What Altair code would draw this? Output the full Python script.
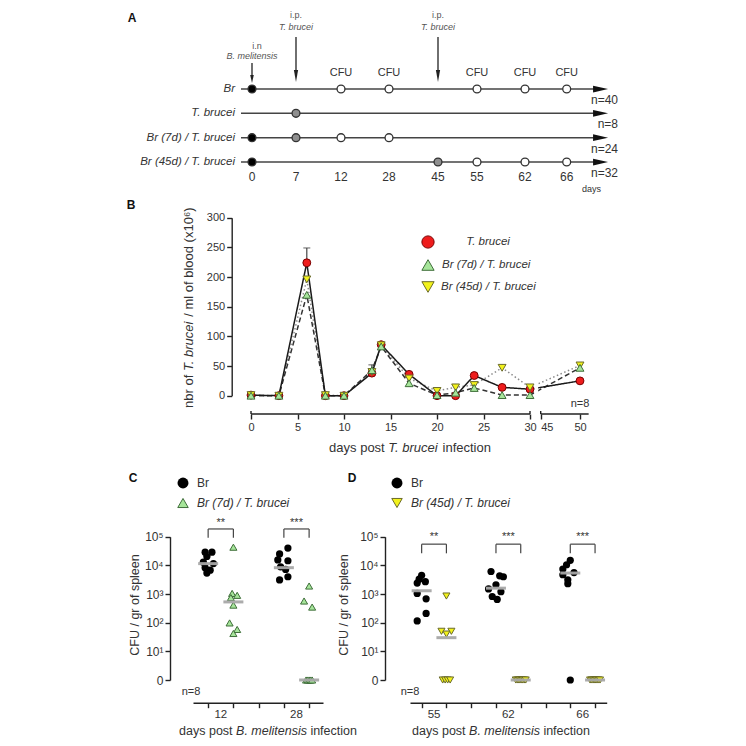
import altair as alt
import pandas as pd
import numpy as np

FONT = "Liberation Sans"
INK = "#333333"

# ---------------- data ----------------
# Panel A: experimental timeline
a_days = [0, 7, 12, 28, 45, 55, 62, 66]
a_cfu_days = [12, 28, 55, 62, 66]
a_ip_days = [7, 45]
a_in_days = [0]
a_row = [0, 0, 0, 0, 0, 0, 1, 2, 2, 2, 2, 3, 3, 3, 3, 3]
a_day = [0, 12, 28, 55, 62, 66, 7, 0, 7, 12, 28, 0, 45, 55, 62, 66]
a_kind = ["Br", "CFU", "CFU", "CFU", "CFU", "CFU", "Tb", "Br", "Tb", "CFU", "CFU",
          "Br", "Tb", "CFU", "CFU", "CFU"]
a_rowlabels = ["Br", "T. brucei", "Br  (7d) / T. brucei", "Br (45d)  / T. brucei"]
a_n = ["n=40", "n=8", "n=24", "n=32"]

# Panel B: parasitemia
b_days = [0, 3, 6, 8, 10, 13, 14, 17, 20, 22, 24, 27, 30, 50]
b_tb = [1, 0, 224, 0, 0, 38, 86, 36, 0, 0, 34, 14, 11, 25]
b_br7 = [0, 0, 170, 0, 0, 43, 83, 21, 1, 5, 13, 1, 1, 47]
b_br45 = [1, 0, 196, 1, 0, 40, 85, 29, 8, 14, 18, 47, 14, 51]
b_err_day = [6, 13]
b_err_lo = [224, 43]
b_err_hi = [249, 52]
b_xticks = [0, 5, 10, 15, 20, 25, 30, 45, 50]
b_yticks = [0, 50, 100, 150, 200, 250, 300]

# Panel C: CFU, Br vs Br(7d)/T. brucei
c_days = [12, 28]
c_br = [[28800, 28800, 20400, 12900, 11500, 8300, 6800, 5400],
        [40000, 25000, 15500, 14500, 8900, 7200, 4000, 3100]]
c_br_jit = [[-0.12, 0.15, -0.05, -0.19, 0.21, -0.12, 0.08, -0.05],
            [0.16, -0.17, -0.24, 0.16, -0.13, 0.07, 0.16, -0.17]]
c_tb = [[43000, 1050, 900, 750, 410, 98, 58, 42],
        [1900, 570, 350, 0, 0, 0, 0, 0]]
c_tb_jit = [[0.0, -0.05, 0.15, -0.1, 0.0, -0.15, 0.15, 0.0],
            [0.0, -0.2, 0.12, -0.12, -0.06, 0.0, 0.06, 0.12]]
c_br_med = [11500, 8300]
c_tb_med = [530, 0]
c_stars = ["**", "***"]

# Panel D: CFU, Br vs Br(45d)/T. brucei
d_days = [55, 62, 66]
d_br = [[4500, 3300, 2700, 2400, 1050, 680, 210, 115],
        [6100, 4300, 4000, 2100, 1500, 1200, 820, 650],
        [15000, 10500, 7400, 5600, 4700, 3150, 2300, 0]]
d_br_jit = [[0.0, -0.1, 0.15, -0.18, -0.18, 0.18, 0.18, -0.18],
            [-0.2, 0.15, 0.3, 0.0, -0.3, 0.2, -0.15, 0.05],
            [0.0, -0.15, -0.3, 0.15, -0.3, -0.1, -0.1, 0.0]]
d_tb = [[850, 50, 50, 40, 0, 0, 0, 0],
        [0, 0, 0, 0, 0, 0, 0, 0],
        [0, 0, 0, 0, 0, 0, 0, 0]]
d_tb_jit = [[0.0, -0.2, 0.2, 0.0, -0.15, -0.05, 0.05, 0.15],
            [-0.2, -0.14, -0.08, -0.03, 0.03, 0.08, 0.14, 0.2],
            [-0.2, -0.14, -0.08, -0.03, 0.03, 0.08, 0.14, 0.2]]
d_br_med = [1300, 1600, 5400]
d_tb_med = [30, 0, 0]
d_stars = ["**", "***", "***"]

# ---------------- helpers ----------------
ONE = pd.DataFrame({"k": [0]})
CW = {' ': .278, '(': .333, ')': .333, '*': .389, '/': .278, '.': .278, '=': .584,
      'A': .667, 'B': .667, 'C': .722, 'D': .722, 'F': .611, 'T': .611, 'U': .722,
      'a': .556, 'b': .556, 'c': .5, 'd': .556, 'e': .556, 'f': .278, 'g': .556,
      'h': .556, 'i': .222, 'l': .222, 'm': .833, 'n': .556, 'o': .556, 'p': .556,
      'r': .333, 's': .5, 't': .278, 'u': .556, 'x': .5, 'y': .5, '⁶': .36}


def tw(s, size):
    return sum(CW.get(ch, .556) for ch in s) * size


def T(s, x, y, size=11, italic=False, align="left", angle=0, bold=False, color=INK):
    return alt.Chart(ONE).mark_text(
        text=s, x=x, y=y, fontSize=size, font=FONT,
        fontStyle="italic" if italic else "normal",
        fontWeight="bold" if bold else "normal",
        align=align, baseline="middle", angle=angle, color=color)


def rich(segs, cx, cy, size, angle=0, color=INK):
    total = sum(tw(s, size) for s, _ in segs)
    pos = -total / 2
    out = []
    for s, it in segs:
        lead = len(s) - len(s.lstrip())
        p = pos + tw(s[:lead], size)
        if angle == 0:
            out.append(T(s.strip(), cx + p, cy, size, it, "left", 0, color=color))
        else:
            out.append(T(s.strip(), cx, cy - p, size, it, "left", 270, color=color))
        pos += tw(s, size)
    return out


def ax(orient, offset, values, labels=True, label_expr=None, domain=True, size=11, **extra):
    kw = dict(orient=orient, offset=offset, values=values, title=None, grid=False,
              tickSize=5, tickWidth=1.4, tickColor="#222", domain=domain,
              domainColor="#222", domainWidth=1.4, labels=labels, labelFont=FONT,
              labelFontSize=size, labelColor=INK, labelPadding=2, labelOverlap=False)
    if label_expr:
        kw["labelExpr"] = label_expr
    kw.update(extra)
    return alt.Axis(**kw)


ARROW_R = "M-1,-0.45L1,0L-1,0.45Z"
ARROW_D = "M-0.45,-1L0.45,-1L0,1Z"
ARROW_D2 = "M-0.35,-1L0.35,-1L0,1Z"

layers = []

# ---------------- Panel A ----------------
xA = alt.Scale(domain=a_days, range=[244, 288, 333, 381, 430, 469, 517, 558.7], nice=False, zero=False)
yA = alt.Scale(domain=[0, 3], range=[81, 154], nice=False, zero=False)
LINE_START, LINE_END = -1.75, 69.25

rows_df = pd.DataFrame({"row": [0, 1, 2, 3], "x0": LINE_START, "x1": LINE_END,
                        "label": a_rowlabels, "n": a_n})
XA = lambda f: alt.X(f, scale=xA, axis=None)
YA = lambda f: alt.Y(f, scale=yA, axis=None)

layers.append(alt.Chart(rows_df).mark_rule(color="#444", strokeWidth=1.5).encode(
    x=XA("x0:Q"), x2="x1:Q", y=YA("row:Q")))
layers.append(alt.Chart(rows_df).mark_point(shape=ARROW_R, filled=True, size=225, color="#111", opacity=1).encode(
    x=XA("x1:Q"), y=YA("row:Q")))
layers.append(alt.Chart(rows_df).mark_text(align="right", baseline="middle", font=FONT, fontSize=11.5,
                                           fontStyle="italic", color=INK).encode(
    x=alt.value(227), y=YA("row:Q"), text="label:N"))
layers.append(alt.Chart(rows_df).mark_text(align="right", baseline="middle", font=FONT, fontSize=12,
                                           color=INK, dy=11).encode(
    x=alt.value(610), y=YA("row:Q"), text="n:N"))

mk = pd.DataFrame({"row": a_row, "day": a_day, "kind": a_kind})
for kind, fill in [("Br", "#000000"), ("Tb", "#8f8f8f"), ("CFU", "#ffffff")]:
    layers.append(alt.Chart(mk[mk.kind == kind]).mark_point(
        shape="circle", filled=True, size=62, fill=fill, stroke="#333", strokeWidth=1.3, opacity=1).encode(
        x=XA("day:Q"), y=YA("row:Q")))

inj_in = pd.DataFrame({"day": a_in_days})
inj_ip = pd.DataFrame({"day": a_ip_days})
layers.append(alt.Chart(inj_in).mark_rule(color="#222", strokeWidth=1.3).encode(
    x=XA("day:Q"), y=alt.value(55), y2=alt.value(70)))
layers.append(alt.Chart(inj_in).mark_point(shape=ARROW_D, filled=True, size=64, color="#222", opacity=1).encode(
    x=XA("day:Q"), y=alt.value(71)))
layers.append(alt.Chart(inj_ip).mark_rule(color="#222", strokeWidth=1.3).encode(
    x=XA("day:Q"), y=alt.value(29), y2=alt.value(67)))
layers.append(alt.Chart(inj_ip).mark_point(shape=ARROW_D2, filled=True, size=144, color="#222", opacity=1).encode(
    x=XA("day:Q"), y=alt.value(68)))
layers.append(alt.Chart(inj_in).mark_text(text="i.n", font=FONT, fontSize=9, color="#555", dx=5).encode(
    x=XA("day:Q"), y=alt.value(38)))
layers.append(alt.Chart(inj_in).mark_text(text="B. melitensis", font=FONT, fontSize=9, fontStyle="italic",
                                          color="#555").encode(x=XA("day:Q"), y=alt.value(48)))
layers.append(alt.Chart(inj_ip).mark_text(text="i.p.", font=FONT, fontSize=9, color="#555").encode(
    x=XA("day:Q"), y=alt.value(7)))
layers.append(alt.Chart(inj_ip).mark_text(text="T. brucei", font=FONT, fontSize=9, fontStyle="italic",
                                          color="#555").encode(x=XA("day:Q"), y=alt.value(19)))
layers.append(alt.Chart(pd.DataFrame({"day": a_cfu_days})).mark_text(
    text="CFU", font=FONT, fontSize=11, color=INK).encode(x=XA("day:Q"), y=alt.value(65)))
layers.append(alt.Chart(pd.DataFrame({"day": a_days})).mark_text(
    font=FONT, fontSize=12, color=INK).encode(x=XA("day:Q"), y=alt.value(169), text="day:Q"))
layers.append(T("days", 574, 181, 9))
layers.append(T("A", 124, 10, 12, bold=True, align="center", color="#111"))

# ---------------- Panel B ----------------
xB = alt.Scale(domain=[0, 30, 45, 50], range=[243, 522, 532.7, 572], nice=False, zero=False)
yB = alt.Scale(domain=[0, 300], range=[387.7, 209.7], nice=False, zero=False)
XB = lambda f: alt.X(f, scale=xB, axis=None)
YB = lambda f: alt.Y(f, scale=yB, axis=None)

groups = ["tb", "br7", "br45"]
bdf = pd.DataFrame({"day": b_days * 3, "v": b_tb + b_br7 + b_br45,
                    "g": [g for g in groups for _ in b_days]})

# axes carrier
layers.append(alt.Chart(bdf).mark_point(opacity=0).encode(
    x=alt.X("day:Q", scale=xB, axis=ax("bottom", -324, b_xticks, domain=False,
                                       labelAlign={"condition": {"test": "datum.value == 45", "value": "left"},
                                                   "value": "center"})),
    y=alt.Y("v:Q", scale=yB, axis=ax("left", -223.7, b_yticks))))
seg = pd.DataFrame({"x0": [0, 45], "x1": [30, 51.1]})
layers.append(alt.Chart(seg).mark_rule(color="#222", strokeWidth=1.4).encode(
    x=XB("x0:Q"), x2="x1:Q", y=alt.value(406)))
layers.append(alt.Chart(pd.DataFrame({"d": [0, 30, 45]})).mark_rule(color="#222", strokeWidth=1.4).encode(
    x=XB("d:Q"), y=alt.value(403), y2=alt.value(406)))

styles = {"tb": dict(color="#1a1a1a", strokeDash=[1, 0]),
          "br7": dict(color="#333333", strokeDash=[5, 3]),
          "br45": dict(color="#8a8a8a", strokeDash=[1.5, 2.5])}
for g in ["br45", "br7", "tb"]:
    layers.append(alt.Chart(bdf[bdf.g == g]).mark_line(strokeWidth=1.5, **styles[g]).encode(
        x=XB("day:Q"), y=YB("v:Q"), order="day:Q"))
# axis break gap
layers.append(alt.Chart(pd.DataFrame({"a": [36.0], "b": [41.5], "lo": [0], "hi": [40]})).mark_rect(
    color="white").encode(x=XB("a:Q"), x2="b:Q", y=YB("lo:Q"), y2="hi:Q"))
err = pd.DataFrame({"day": b_err_day, "lo": b_err_lo, "hi": b_err_hi})
layers.append(alt.Chart(err).mark_rule(color="#444", strokeWidth=1.2).encode(
    x=XB("day:Q"), y=YB("lo:Q"), y2="hi:Q"))
layers.append(alt.Chart(err).mark_tick(orient="horizontal", size=7, thickness=1.2, color="#444").encode(
    x=XB("day:Q"), y=YB("hi:Q")))

mstyle = {"tb": dict(shape="circle", fill="#ee1c1c", stroke="#7a0000"),
          "br45": dict(shape="triangle-down", fill="#f2f21c", stroke="#6b6b2a"),
          "br7": dict(shape="triangle-up", fill="#a6e59a", stroke="#3f6e3a")}
for g in ["tb", "br45", "br7"]:
    layers.append(alt.Chart(bdf[bdf.g == g]).mark_point(filled=True, size=62, strokeWidth=1, opacity=1,
                                                        **mstyle[g]).encode(
        x=XB("day:Q"), y=YB("v:Q")))

# legend B
for g, yy in [("tb", 234), ("br7", 257), ("br45", 279)]:
    layers.append(alt.Chart(ONE).mark_point(filled=True, size=150, strokeWidth=1, opacity=1, x=420, y=yy,
                                            **mstyle[g]))
layers.append(T("T. brucei", 480, 234, 11.5, italic=True, align="center"))
layers.append(T("Br (7d) / T. brucei", 434, 257, 11.5, italic=True))
layers.append(T("Br (45d) / T. brucei", 433, 279, 11.5, italic=True))
layers.append(T("n=8", 572, 396, 11, align="center"))
layers.append(T("B", 123, 197, 12, bold=True, align="center", color="#111"))
layers += rich([("days post ", False), ("T. brucei", True), (" infection", False)], 402, 440, 13)
layers += rich([("nbr of ", False), ("T. brucei", True), (" / ml of blood (x10⁶)", False)], 181, 300, 13,
               angle=270)

# ---------------- Panels C and D ----------------
SUP = "datum.value == 0 ? '0' : '10' + ['⁰','¹','²','³','⁴','⁵'][datum.value]"
yS = alt.Scale(domain=[0, 5], range=[672, 528.7], nice=False, zero=False)


def cfu_frame(days, br, brj, tb, tbj):
    rows = []
    for i, d in enumerate(days):
        for v, j in zip(br[i], brj[i]):
            rows.append(dict(day=d, g="Br", x=3 * i + j, v=v))
        for v, j in zip(tb[i], tbj[i]):
            rows.append(dict(day=d, g="Tb", x=3 * i + 1 + j, v=v))
    df = pd.DataFrame(rows)
    df["lv"] = np.where(df.v > 0, np.log10(df.v.clip(lower=1)), 0.0)
    return df


def cfu_panel(days, br, brj, tb, tbj, br_med, tb_med, stars, x_dom, x_rng, y_axis_x,
              tb_style, brk_top, brk_bot, star_y, letter_x, legend_x, legend_text, title_cx, ytitle_x):
    out = []
    xs = alt.Scale(domain=x_dom, range=x_rng, nice=False, zero=False)
    XS = lambda f: alt.X(f, scale=xs, axis=None)
    YS = lambda f: alt.Y(f, scale=yS, axis=None)
    nslot = 3 * len(days) - 1
    df = cfu_frame(days, br, brj, tb, tbj)
    out.append(alt.Chart(df).mark_point(opacity=0).encode(
        x=alt.X("x:Q", scale=xs, axis=ax("bottom", -35.3, list(range(nslot)), labels=False)),
        y=alt.Y("lv:Q", scale=yS, axis=ax("left", -y_axis_x, [0, 1, 2, 3, 4, 5], label_expr=SUP, size=12))))
    out.append(alt.Chart(df[df.g == "Br"]).mark_point(shape="circle", filled=True, size=52, color="#000",
                                                      opacity=1).encode(x=XS("x:Q"), y=YS("lv:Q")))
    out.append(alt.Chart(df[df.g == "Tb"]).mark_point(filled=True, size=50, strokeWidth=1, opacity=1,
                                                      **tb_style).encode(x=XS("x:Q"), y=YS("lv:Q")))
    med = pd.DataFrame({"x": [3 * i for i in range(len(days))] + [3 * i + 1 for i in range(len(days))],
                        "v": br_med + tb_med})
    med["lv"] = np.where(med.v > 0, np.log10(med.v.clip(lower=1)), 0.0)
    out.append(alt.Chart(med).mark_tick(orient="horizontal", size=20, thickness=3, color="#a8a8a8",
                                        opacity=0.95).encode(x=XS("x:Q"), y=YS("lv:Q")))
    # brackets
    brk = pd.DataFrame({"a": [3 * i for i in range(len(days))], "b": [3 * i + 1 for i in range(len(days))],
                        "m": [3 * i + 0.5 for i in range(len(days))], "s": stars,
                        "top": brk_top, "bot": brk_bot, "sy": star_y})
    out.append(alt.Chart(brk).mark_rule(color="#444", strokeWidth=1.2).encode(
        x=XS("a:Q"), x2="b:Q", y=YS("top:Q")))
    out.append(alt.Chart(brk).mark_rule(color="#444", strokeWidth=1.2).encode(
        x=XS("a:Q"), y=YS("top:Q"), y2="bot:Q"))
    out.append(alt.Chart(brk).mark_rule(color="#444", strokeWidth=1.2).encode(
        x=XS("b:Q"), y=YS("top:Q"), y2="bot:Q"))
    out.append(alt.Chart(brk).mark_text(font=FONT, fontSize=11, color=INK).encode(
        x=XS("m:Q"), y=YS("sy:Q"), text="s:N"))
    lab = pd.DataFrame({"m": [3 * i + 0.5 for i in range(len(days))], "d": days})
    out.append(alt.Chart(lab).mark_text(font=FONT, fontSize=11.5, color=INK).encode(
        x=XS("m:Q"), y=alt.value(706.5), text="d:Q"))
    # legend
    out.append(alt.Chart(ONE).mark_point(shape="circle", filled=True, size=120, color="#000", opacity=1,
                                         x=legend_x, y=475))
    out.append(alt.Chart(ONE).mark_point(filled=True, size=110, strokeWidth=1, opacity=1, x=legend_x, y=495,
                                         **tb_style))
    out.append(T("Br", legend_x + 14, 475, 12))
    out.append(T(legend_text, legend_x + 14, 495, 12, italic=True))
    out.append(T(letter_x[0], letter_x[1], 470, 12, bold=True, align="center", color="#111"))
    out.append(T("n=8", letter_x[1] + 58, 684, 11, align="center"))
    out += rich([("days post ", False), ("B. melitensis", True), (" infection", False)], title_cx, 722.5, 12.5)
    out += rich([("CFU / gr of spleen", False)], ytitle_x, 597, 12.5, angle=270)
    return out


green = dict(shape="triangle-up", fill="#a6e59a", stroke="#3f6e3a")
yellow = dict(shape="triangle-down", fill="#f2f21c", stroke="#6b6b2a")

layers += cfu_panel(c_days, c_br, c_br_jit, c_tb, c_tb_jit, c_br_med, c_tb_med, c_stars,
                    [-0.6, 4.55], [185, 315], 162, green, [5.27] * 2, [4.96] * 2, [5.48] * 2,
                    ("C", 125), 175, "Br (7d) / T. brucei", 260, 127)
layers += cfu_panel(d_days, d_br, d_br_jit, d_tb, d_tb_jit, d_br_med, d_tb_med, d_stars,
                    [-0.47, 7.47], [402, 598.7], 377, yellow, [4.74] * 3, [4.42] * 3, [4.99] * 3,
                    ("D", 344), 389, "Br (45d) / T. brucei", 493, 336)

chart = alt.layer(*layers).resolve_scale(x="independent", y="independent").properties(
    width=730, height=730, autosize=alt.AutoSizeParams(type="none"), padding=0, background="white"
).configure_view(stroke=None)

chart.save("out.html", embed_options={"renderer": "svg", "actions": False})
